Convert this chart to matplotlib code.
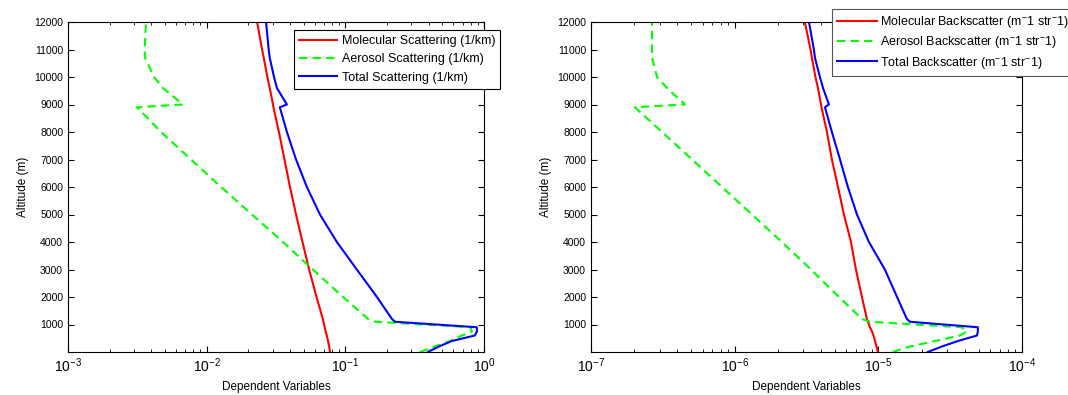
import matplotlib.pyplot as plt
import numpy as np

plt.rcParams['font.family'] = ['Liberation Sans', 'DejaVu Sans']
plt.rcParams['mathtext.default'] = 'regular'

# altitude grid (m), shared by all profiles
altitude = [0, 200, 400, 600, 750, 900, 1100, 1200, 2000, 3000, 4000, 5000,
            6000, 7000, 8000, 8900, 9000, 9600, 10000, 10700, 11000, 12000]

# scattering (1/km)
mol_scat = [0.0775, 0.0765, 0.0750, 0.0735, 0.0720, 0.0710, 0.0695, 0.0688,
            0.0620, 0.0548, 0.0491, 0.0441, 0.0399, 0.0364, 0.0332, 0.0303,
            0.0301, 0.0285, 0.0274, 0.0258, 0.0251, 0.0231]
aer_scat = [0.345, 0.443, 0.568, 0.693, 0.818, 0.800, 0.165, 0.146,
            0.0962, 0.0583, 0.0355, 0.0212, 0.0127, 0.00771, 0.00469, 0.00314,
            0.00674, 0.00484, 0.00417, 0.00359, 0.00357, 0.00365]
tot_scat = [0.394, 0.473, 0.587, 0.859, 0.889, 0.889, 0.228, 0.217,
            0.169, 0.121, 0.0869, 0.0656, 0.0528, 0.0441, 0.0379, 0.0337,
            0.0379, 0.0321, 0.0306, 0.0285, 0.0280, 0.0268]

# backscatter (1/m/sr)
mol_back = [9.94e-6, 9.70e-6, 9.47e-6, 9.25e-6, 9.03e-6, 8.74e-6, 8.47e-6, 8.33e-6,
            7.69e-6, 6.98e-6, 6.45e-6, 5.76e-6, 5.24e-6, 4.75e-6, 4.39e-6, 4.02e-6,
            3.99e-6, 3.80e-6, 3.65e-6, 3.45e-6, 3.37e-6, 3.08e-6]
aer_back = [1.26e-5, 1.66e-5, 2.48e-5, 3.70e-5, 4.14e-5, 3.82e-5, 8.74e-6, 7.69e-6,
            5.32e-6, 3.40e-6, 2.13e-6, 1.32e-6, 8.16e-7, 5.05e-7, 3.12e-7, 2.02e-7,
            4.51e-7, 3.38e-7, 2.88e-7, 2.66e-7, 2.66e-7, 2.66e-7]
tot_back = [2.21e-5, 2.77e-5, 3.58e-5, 4.86e-5, 4.93e-5, 4.93e-5, 1.66e-5, 1.58e-5,
            1.35e-5, 1.11e-5, 8.60e-6, 7.10e-6, 6.14e-6, 5.41e-6, 4.75e-6, 4.25e-6,
            4.53e-6, 4.12e-6, 3.92e-6, 3.62e-6, 3.56e-6, 3.29e-6]

scat_labels = ['Molecular Scattering (1/km)', 'Aerosol Scattering (1/km)',
               'Total Scattering (1/km)']
back_labels = ['Molecular Backscatter (m$^{-}$1 str$^{-}$1)',
               'Aerosol Backscatter (m$^{-}$1 str$^{-}$1)',
               'Total Backscatter (m$^{-}$1 str$^{-}$1)']

y_ticks = np.arange(1000, 12001, 1000)


def draw_panel(ax, series, labels, xlim):
    styles = [('r', '-'), ((0, 1, 0), '--'), ('b', '-')]
    for vals, lab, (col, ls) in zip(series, labels, styles):
        ax.plot(vals, altitude, color=col, linestyle=ls, linewidth=1.5,
                label=lab, dashes=(4, 2.5) if ls == '--' else (None, None))
    ax.set_xscale('log')
    ax.set_xlim(xlim)
    ax.set_ylim(altitude[0], 12000)
    ax.set_yticks(y_ticks)
    ax.set_xlabel('Dependent Variables', fontsize=8.5)
    ax.set_ylabel('Altitude (m)', fontsize=8.5)
    ax.tick_params(which='both', direction='in', top=True, right=True)
    ax.tick_params(axis='y', labelsize=7.5)
    ax.tick_params(axis='x', labelsize=10)
    ax.tick_params(which='major', length=4)
    ax.tick_params(which='minor', length=2)
    for sp in ax.spines.values():
        sp.set_linewidth(0.8)


fig = plt.figure(figsize=(10.68, 3.95), dpi=100)

ax1 = fig.add_axes([68 / 1068, 43 / 395, 416 / 1068, 330 / 395])
draw_panel(ax1, [mol_scat, aer_scat, tot_scat], scat_labels, (1e-3, 1e0))
leg1 = ax1.legend(loc='upper right', bbox_to_anchor=(500 / 1068, 1 - 30 / 395),
                  bbox_transform=fig.transFigure, fontsize=9, fancybox=False,
                  edgecolor='black', framealpha=1, handlelength=3.0,
                  handletextpad=0.4, labelspacing=0.5, borderaxespad=0)
leg1.get_frame().set_linewidth(0.8)

ax2 = fig.add_axes([591 / 1068, 43 / 395, 431 / 1068, 330 / 395])
draw_panel(ax2, [mol_back, aer_back, tot_back], back_labels, (1e-7, 1e-4))
leg2 = ax2.legend(loc='upper left', bbox_to_anchor=(832 / 1068, 1 - 9 / 395),
                  bbox_transform=fig.transFigure, fontsize=9, fancybox=False,
                  edgecolor='#555555', framealpha=1, handlelength=3.2,
                  handletextpad=0.2, labelspacing=0.35, borderaxespad=0)
leg2.get_frame().set_linewidth(0.8)

fig.savefig('out.png', dpi=100)
